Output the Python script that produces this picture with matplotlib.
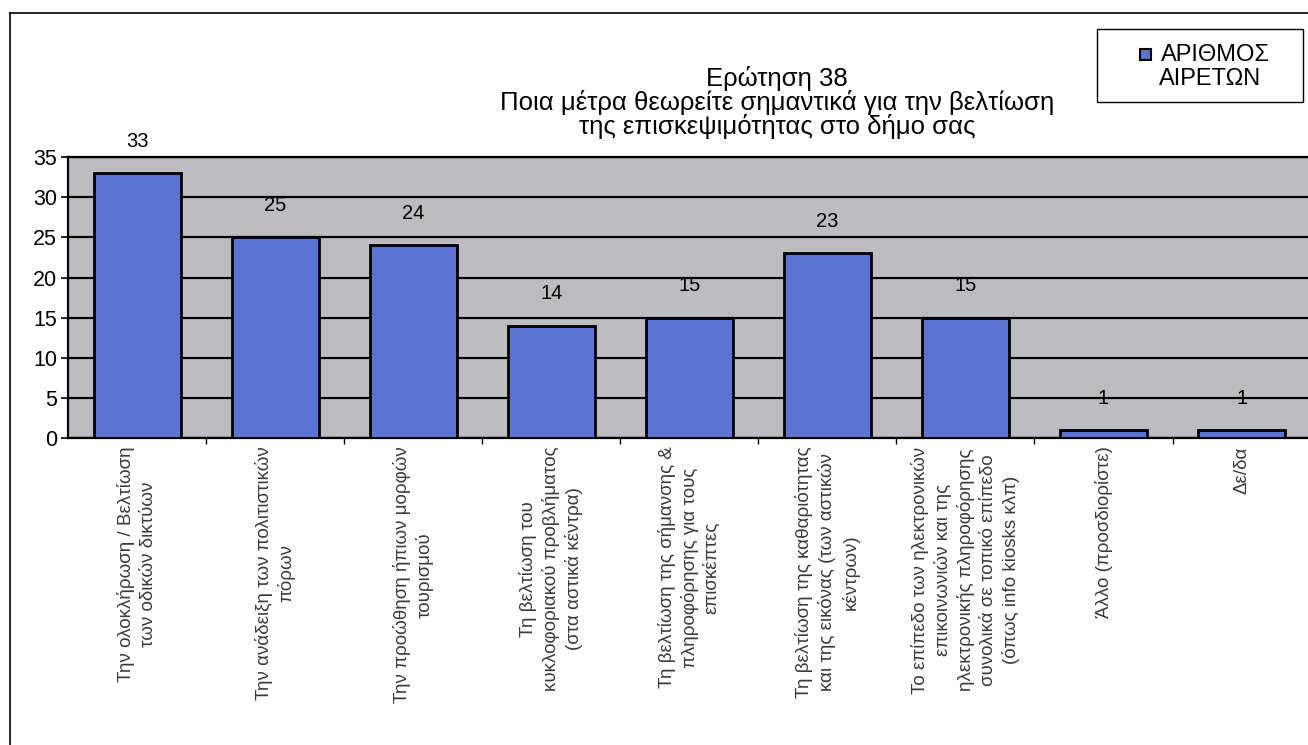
import matplotlib.pyplot as plt
from matplotlib.lines import Line2D
from matplotlib.patches import Rectangle

plt.rcParams['font.family'] = ['Liberation Sans', 'DejaVu Sans']

# Answers and number of elected officials per answer
categories = [
    "Την ολοκλήρωση / Βελτίωση\nτων οδικών δικτύων",
    "Την ανάδειξη των πολιτιστικών\nπόρων",
    "Την προώθηση ήπιων μορφών\nτουρισμού",
    "Τη βελτίωση του\nκυκλοφοριακού προβλήματος\n(στα αστικά κέντρα)",
    "Τη βελτίωση της σήμανσης &\nπληροφόρησης για τους\nεπισκέπτες",
    "Τη βελτίωση της καθαριότητας\nκαι της εικόνας (των αστικών\nκέντρων)",
    "Το επίπεδο των ηλεκτρονικών\nεπικοινωνιών και της\nηλεκτρονικής πληροφόρησης\nσυνολικά σε τοπικό επίπεδο\n(όπως info kiosks κλπ)",
    "Άλλο (προσδιορίστε)",
    "Δε/δα",
]
values = [33, 25, 24, 14, 15, 23, 15, 1, 1]
yticks = [0, 5, 10, 15, 20, 25, 30, 35]

title = "Ερώτηση 38\nΠοια μέτρα θεωρείτε σημαντικά για την βελτίωση\nτης επισκεψιμότητας στο δήμο σας"
series_label = ["ΑΡΙΘΜΟΣ", "ΑΙΡΕΤΩΝ"]

bar_color = '#5b74d2'

fig = plt.figure(figsize=(13.08, 7.45), dpi=100)
fig.patch.set_facecolor('white')
ax = fig.add_axes([0.052, 0.412, 0.950, 0.377])
ax.set_facecolor('#bdbdc1')

x = list(range(len(values)))
bars = ax.bar(x, values, width=0.63, color=bar_color, edgecolor='black',
              linewidth=2, zorder=3)

for xi, v in zip(x, values):
    ax.annotate(str(v), (xi, v), xytext=(0, 16), textcoords='offset points',
                ha='center', va='bottom', fontsize=14.5)

ax.set_xlim(-0.5, len(values) - 0.5)
ax.set_ylim(0, 35)
ax.set_yticks(yticks)
ax.set_yticklabels([str(t) for t in yticks], fontsize=15.5)
ax.yaxis.grid(True, color='black', linewidth=1.6, zorder=1)
ax.set_axisbelow(True)

ax.set_xticks(x)
ax.set_xticklabels(categories, rotation=90, fontsize=13.5, color='#3a3a3a',
                   multialignment='center', linespacing=1.35)
ax.tick_params(axis='x', length=0, pad=6)
ax.set_xticks([i + 0.5 for i in x[:-1]], minor=True)
ax.tick_params(axis='x', which='minor', length=4, width=1, direction='out')
ax.tick_params(axis='y', length=5, width=1.2, direction='out', pad=3)

for side in ['left', 'bottom', 'top']:
    ax.spines[side].set_linewidth(1.6)
ax.spines['right'].set_visible(False)

fig.text(0.594, 0.862, title, ha='center', va='center', fontsize=18.5,
         linespacing=0.95)

# legend box: frame, marker and two centred text lines
fig.add_artist(Rectangle((0.8387, 0.863), 0.1575, 0.098, transform=fig.transFigure,
                         fill=False, edgecolor='black', linewidth=1.0))
fig.add_artist(Rectangle((0.8715, 0.919), 0.0085, 0.015, transform=fig.transFigure,
                         facecolor=bar_color, edgecolor='black', linewidth=1.5))
fig.text(0.929, 0.926, series_label[0], ha='center', va='center', fontsize=17)
fig.text(0.925, 0.894, series_label[1], ha='center', va='center', fontsize=17)

# chart area border
fig.add_artist(Line2D([0.008, 1.0], [0.983, 0.983], color='black', linewidth=1.2))
fig.add_artist(Line2D([0.008, 0.008], [0.0, 0.983], color='black', linewidth=1.2))

fig.savefig('out.png', dpi=100)
